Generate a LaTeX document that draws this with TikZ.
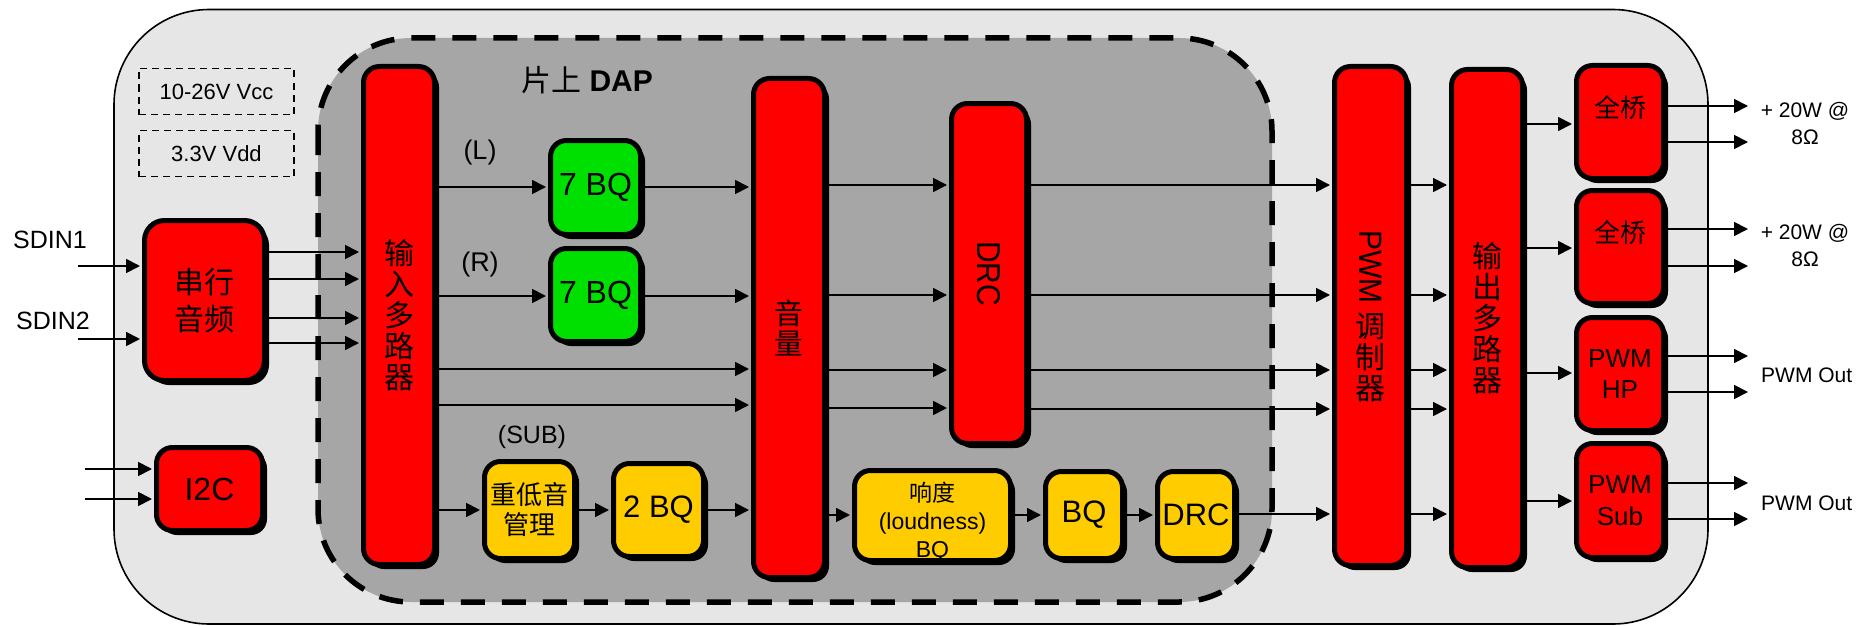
\documentclass[tikz,border=0pt]{standalone}
\usepackage{fontspec}
\usepackage{graphicx}
\setmainfont{Liberation Sans}
\newfontfamily\cjk{Noto Sans CJK SC}
\usetikzlibrary{arrows.meta,shadows}
\definecolor{outerfill}{RGB}{230,230,230}
\definecolor{dapfill}{RGB}{166,166,166}
\definecolor{blkred}{RGB}{255,0,0}
\definecolor{blkgreen}{RGB}{0,224,0}
\definecolor{blkyellow}{RGB}{255,204,0}
\tikzset{
  blk/.style={draw=black, line width=5pt, rounded corners=16pt, fill=blkred, inner sep=0pt, align=center, text=black,
    drop shadow={shadow xshift=4.5pt, shadow yshift=-4.5pt, fill=black, opacity=1}},
  greenblk/.style={fill=blkgreen},
  yellowblk/.style={fill=blkyellow},
  arr/.style={line width=1.8pt, -{Triangle[length=14pt,width=14pt]}, shorten >=2pt},
  outarr/.style={line width=1.8pt, -{Triangle[length=14pt,width=14pt]}},
  supply/.style={draw=black, line width=1.5pt, dash pattern=on 7pt off 5pt, inner sep=0pt, font=\fontsize{22}{24}\selectfont},
  lbl/.style={inner sep=0pt, align=center},
  latin/.style={font=\fontsize{#1}{#1}\selectfont},
}
\newcommand\mkblk[7]{%
  \pgfmathsetmacro\bcx{(#2+#4)/2-1}%
  \pgfmathsetmacro\bcy{(#3+#5)/2-1}%
  \pgfmathsetmacro\bw{#4-#2-7}%
  \pgfmathsetmacro\bh{#5-#3-7}%
  \node[blk,#6,minimum width=\bw pt,minimum height=\bh pt] (#1) at (\bcx,\bcy) {#7};%
}
\begin{document}
\begin{tikzpicture}[x=1pt,y=-1pt]
\useasboundingbox (0,0) rectangle (1858,626);
% outer chip
\draw[line width=1.6pt, fill=outerfill, rounded corners=95pt] (114,9.5) rectangle (1708,624);
% DAP region
\draw[line width=5.5pt, dash pattern=on 24pt off 17pt, fill=dapfill, rounded corners=93pt] (318,38) rectangle (1272,602);
\node[lbl, font=\fontsize{30}{30}\selectfont] (daplabel) at (587,80) {{\cjk 片上} \textbf{DAP}};

% supplies
\node[supply, minimum width=155pt, minimum height=46pt] (vcc) at (216.5,91.5) {10-26V Vcc};
\node[supply, minimum width=155pt, minimum height=46pt] (vdd) at (216.5,153.5) {3.3V Vdd};

% blocks
\mkblk{ser}{142}{218}{269}{385}{rounded corners=20pt, font={\cjk\fontsize{30}{37}\selectfont}}{串行\\音频}
\mkblk{i2c}{154}{445}{267}{535}{latin=32}{I2C}
\mkblk{inmux}{361}{64}{439}{569}{font={\cjk\fontsize{30}{31}\selectfont}}{输\\入\\多\\路\\器}
\mkblk{bqL}{548}{138}{645}{239}{greenblk,latin=32}{7 BQ}
\mkblk{bqR}{548}{246}{645}{346}{greenblk,latin=32}{7 BQ}
\mkblk{bass}{482}{459}{579}{563}{yellowblk,font={\cjk\fontsize{26}{30}\selectfont}}{重低音\\管理}
\mkblk{bqtwo}{611}{461}{708}{561}{yellowblk,latin=31}{2 BQ}
\mkblk{vol}{751}{76}{829}{582}{font={\cjk\fontsize{29}{30}\selectfont}}{音\\量}
\mkblk{drc}{949}{101}{1031}{448}{latin=30}{\rotatebox{-90}{\scalebox{1}[1.1]{DRC}}}
\mkblk{loud}{852}{468}{1015}{565}{yellowblk,font={\fontsize{23}{28}\selectfont}}{\raisebox{-14.5pt}[0pt][0pt]{\begin{tabular}{@{}c@{}}{\cjk 响度}\\(loudness)\\BQ\end{tabular}}}
\mkblk{bq}{1043}{469}{1127}{563}{yellowblk,latin=31}{BQ}
\mkblk{drcb}{1155}{469}{1239}{563}{yellowblk,latin=31}{DRC}
\mkblk{pwm}{1332}{64}{1411}{570}{font={\cjk\fontsize{30}{31}\selectfont}}{\rotatebox{-90}{\rmfamily\scalebox{1}[1.08]{PWM}}\\[8pt]调\\制\\器}
\mkblk{outmux}{1449}{67}{1527}{572}{font={\cjk\fontsize{30}{31}\selectfont}}{输\\出\\多\\路\\器}
\mkblk{fbone}{1574}{63}{1668}{183}{font={\cjk\fontsize{26}{26}\selectfont}}{\raisebox{5pt}[0pt][0pt]{全桥}}
\mkblk{fbtwo}{1574}{188}{1668}{308}{font={\cjk\fontsize{26}{26}\selectfont}}{\raisebox{5pt}[0pt][0pt]{全桥}}
\mkblk{hp}{1574}{315}{1668}{435}{font={\fontsize{26}{31}\selectfont}}{PWM\\HP}
\mkblk{sub}{1574}{441}{1668}{562}{font={\fontsize{26}{32}\selectfont}}{PWM\\Sub}

% labels
\node[lbl, latin=27] (lL) at (480,153) {(L)};
\node[lbl, latin=27] (lR) at (480,265) {(R)};
\node[lbl, latin=25] (lSUB) at (532,437) {(SUB)};
\node[lbl, latin=25] (sdinone) at (50,240) {SDIN1};
\node[lbl, latin=25] (sdintwo) at (53,321) {SDIN2};
\node[lbl, font=\fontsize{21}{27}\selectfont] (oA) at (1805,123) {+ 20W @\\8Ω};
\node[lbl, font=\fontsize{21}{27}\selectfont] (oB) at (1805,245) {+ 20W @\\8Ω};
\node[lbl, latin=21, anchor=west] (oC) at (1761,375) {PWM Out};
\node[lbl, latin=21, anchor=west] (oD) at (1761,503) {PWM Out};

% inputs
\coordinate (inA) at (78,266);
\coordinate (inB) at (78,339);
\coordinate (inC) at (85,469);
\coordinate (inD) at (85,499);
\draw[arr] (inA) -- (ser.west |- inA);
\draw[arr] (inB) -- (ser.west |- inB);
\draw[arr] (inC) -- (i2c.west |- inC);
\draw[arr] (inD) -- (i2c.west |- inD);

% serial -> input mux
\foreach \yy in {252,279,318,343} \draw[arr] (ser.east |- 0,\yy) -- (inmux.west |- 0,\yy);

% input mux -> ...
\draw[arr] (inmux.east |- 0,187) -- (bqL.west |- 0,187);
\draw[arr] (inmux.east |- 0,296) -- (bqR.west |- 0,296);
\draw[arr] (inmux.east |- 0,369) -- (vol.west |- 0,369);
\draw[arr] (inmux.east |- 0,405) -- (vol.west |- 0,405);
\draw[arr] (inmux.east |- 0,510) -- (bass.west |- 0,510);
\draw[arr] (bqL.east |- 0,187) -- (vol.west |- 0,187);
\draw[arr] (bqR.east |- 0,296) -- (vol.west |- 0,296);
\draw[arr] (bass.east |- 0,510) -- (bqtwo.west |- 0,510);
\draw[arr] (bqtwo.east |- 0,510) -- (vol.west |- 0,510);

% volume -> DRC
\foreach \yy in {185,295,370,408} \draw[arr] (vol.east |- 0,\yy) -- (drc.west |- 0,\yy);
\draw[arr] (vol.east |- 0,515) -- (loud.west |- 0,515);
\draw[arr] (loud.east |- 0,515) -- (bq.west |- 0,515);
\draw[arr] (bq.east |- 0,515) -- (drcb.west |- 0,515);
\draw[arr] (drcb.east |- 0,514) -- (pwm.west |- 0,514);

% DRC -> PWM
\foreach \yy in {185,295,370,409} \draw[arr] (drc.east |- 0,\yy) -- (pwm.west |- 0,\yy);
% PWM -> output mux
\foreach \yy in {185,295,370,409,514} \draw[arr] (pwm.east |- 0,\yy) -- (outmux.west |- 0,\yy);
% output mux -> stages
\draw[arr] (outmux.east |- 0,124) -- (fbone.west |- 0,124);
\draw[arr] (outmux.east |- 0,248) -- (fbtwo.west |- 0,248);
\draw[arr] (outmux.east |- 0,373) -- (hp.west |- 0,373);
\draw[arr] (outmux.east |- 0,501) -- (sub.west |- 0,501);

% outputs
\coordinate (eA) at (1748,106);
\coordinate (eB) at (1748,142);
\coordinate (eC) at (1748,229);
\coordinate (eD) at (1748,266);
\coordinate (eE) at (1748,356);
\coordinate (eF) at (1748,392);
\coordinate (eG) at (1748,483);
\coordinate (eH) at (1748,519);
\draw[outarr] (fbone.east |- eA) -- (eA);
\draw[outarr] (fbone.east |- eB) -- (eB);
\draw[outarr] (fbtwo.east |- eC) -- (eC);
\draw[outarr] (fbtwo.east |- eD) -- (eD);
\draw[outarr] (hp.east |- eE) -- (eE);
\draw[outarr] (hp.east |- eF) -- (eF);
\draw[outarr] (sub.east |- eG) -- (eG);
\draw[outarr] (sub.east |- eH) -- (eH);
\end{tikzpicture}
\end{document}
